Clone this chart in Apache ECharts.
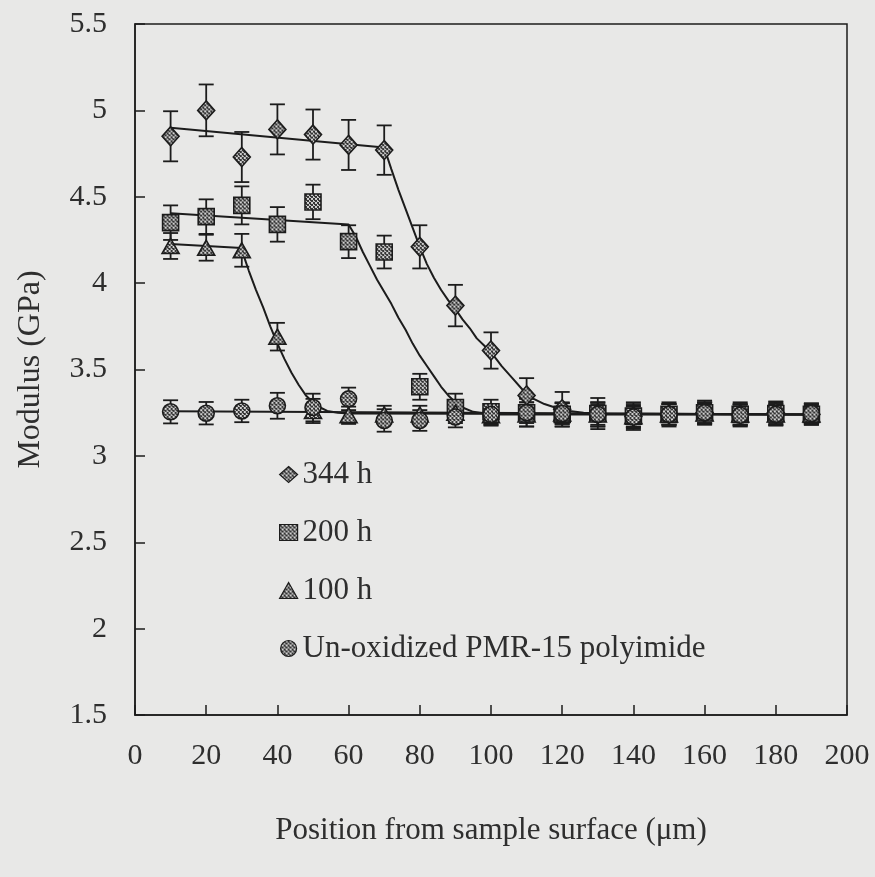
<!DOCTYPE html>
<html>
<head>
<meta charset="utf-8">
<script src="https://cdn.jsdelivr.net/npm/echarts@6/dist/echarts.min.js"></script>
<style>
  html, body { margin: 0; padding: 0; background: #e8e8e7; }
  #chart { width: 875px; height: 877px; }
</style>
</head>
<body>
<div id="chart"></div>
<script>
// Depth positions (µm) of the nanoindentation measurements
const positions = [10, 20, 30, 40, 50, 60, 70, 80, 90, 100, 110, 120, 130, 140, 150, 160, 170, 180, 190];

// Modulus (GPa) and error half-widths for each ageing time
const mod344 = [4.85, 5.00, 4.73, 4.89, 4.86, 4.80, 4.77, 4.21, 3.87, 3.61, 3.35, 3.27, 3.24, 3.23, 3.24, 3.25, 3.24, 3.25, 3.24];
const err344 = [0.145, 0.15, 0.145, 0.145, 0.145, 0.145, 0.143, 0.125, 0.12, 0.105, 0.10, 0.10, 0.07, 0.06, 0.06, 0.06, 0.06, 0.06, 0.05];

const mod200 = [4.35, 4.385, 4.45, 4.34, 4.47, 4.24, 4.18, 3.40, 3.28, 3.255, 3.25, 3.24, 3.245, 3.23, 3.24, 3.25, 3.24, 3.245, 3.24];
const err200 = [0.10, 0.10, 0.11, 0.10, 0.10, 0.095, 0.095, 0.075, 0.08, 0.07, 0.08, 0.07, 0.09, 0.08, 0.07, 0.07, 0.07, 0.07, 0.06];

const mod100 = [4.215, 4.205, 4.19, 3.69, 3.26, 3.235, 3.24, 3.24, 3.25, 3.235, 3.24, 3.245, 3.24, 3.23, 3.24, 3.245, 3.24, 3.24, 3.24];
const err100 = [0.075, 0.075, 0.095, 0.08, 0.07, 0.05, 0.05, 0.05, 0.06, 0.06, 0.07, 0.06, 0.07, 0.07, 0.06, 0.06, 0.06, 0.06, 0.06];

const modRef = [3.255, 3.247, 3.26, 3.29, 3.28, 3.33, 3.205, 3.205, 3.225, 3.24, 3.25, 3.245, 3.24, 3.225, 3.24, 3.25, 3.235, 3.24, 3.245];
const errRef = [0.067, 0.065, 0.065, 0.075, 0.08, 0.065, 0.065, 0.06, 0.06, 0.06, 0.06, 0.06, 0.06, 0.06, 0.06, 0.06, 0.06, 0.06, 0.06];

// Fitted profiles: [position, modulus]
const fit344 = [[10, 4.90], [70, 4.785], [72, 4.66], [74, 4.54], [76, 4.43], [78, 4.32], [80, 4.21], [82, 4.11],
  [84, 4.03], [86, 3.96], [88, 3.90], [90, 3.85], [92, 3.79], [94, 3.74], [96, 3.68], [98, 3.64], [100, 3.60],
  [103, 3.52], [106, 3.45], [109, 3.38], [112, 3.33], [115, 3.30], [118, 3.28], [122, 3.26], [126, 3.25],
  [130, 3.245], [190, 3.24]];
const fit200 = [[10, 4.405], [60, 4.34], [62, 4.27], [64, 4.18], [66, 4.10], [68, 4.02], [70, 3.95], [72, 3.88],
  [74, 3.80], [76, 3.73], [78, 3.65], [80, 3.58], [82, 3.52], [84, 3.46], [86, 3.40], [88, 3.35], [90, 3.31],
  [92, 3.28], [95, 3.255], [100, 3.24], [190, 3.24]];
const fit100 = [[10, 4.227], [30, 4.204], [31, 4.13], [32, 4.07], [34, 3.96], [36, 3.86], [38, 3.75], [40, 3.65],
  [42, 3.56], [44, 3.48], [46, 3.41], [48, 3.35], [50, 3.31], [52, 3.28], [54, 3.26], [57, 3.25], [60, 3.245],
  [190, 3.24]];
const fitRef = [[10, 3.258], [190, 3.24]];

const seriesNames = ['344 h', '200 h', '100 h', 'Un-oxidized PMR-15 polyimide'];

const FONT = '"Liberation Serif", "DejaVu Serif", serif';
const INK = '#1c1c1c';
const TEXT = '#2e2e2e';

// Dotted grey texture used for every marker
const dotCanvas = (function () {
  const c = document.createElement('canvas');
  c.width = 4; c.height = 4;
  const g = c.getContext('2d');
  g.fillStyle = '#d2d2d2';
  g.fillRect(0, 0, 4, 4);
  g.fillStyle = '#333333';
  g.fillRect(0, 0, 2, 2);
  g.fillRect(2, 2, 2, 2);
  g.fillRect(1, 2, 1, 1);
  return c;
})();

// Scatter symbols are drawn as unit paths scaled by size/2, so the texture
// is scaled back down to keep its dots at screen resolution.
function dotFill(size) {
  const w = Array.isArray(size) ? size[0] : size;
  const h = Array.isArray(size) ? size[1] : size;
  return { image: dotCanvas, repeat: 'repeat', scaleX: 2 / w, scaleY: 2 / h };
}
const legendFill = { image: dotCanvas, repeat: 'repeat' };

function pairs(xs, ys) { return xs.map((x, i) => [x, ys[i]]); }
function triples(xs, ys, es) { return xs.map((x, i) => [x, ys[i], es[i]]); }

function errorBars(data) {
  return {
    type: 'custom',
    silent: true,
    z: 3,
    data: data,
    renderItem: function (params, api) {
      const x = api.value(0), y = api.value(1), e = api.value(2);
      const top = api.coord([x, y + e]);
      const bot = api.coord([x, y - e]);
      const half = 7.5;
      const style = { stroke: INK, lineWidth: 1.8, fill: null };
      return {
        type: 'group',
        children: [
          { type: 'line', shape: { x1: top[0], y1: top[1], x2: bot[0], y2: bot[1] }, style: style },
          { type: 'line', shape: { x1: top[0] - half, y1: top[1], x2: top[0] + half, y2: top[1] }, style: style },
          { type: 'line', shape: { x1: bot[0] - half, y1: bot[1], x2: bot[0] + half, y2: bot[1] }, style: style }
        ]
      };
    }
  };
}

function fitLine(data) {
  return {
    type: 'line',
    data: data,
    symbol: 'none',
    silent: true,
    z: 2,
    lineStyle: { color: INK, width: 2 }
  };
}

function markers(name, data, symbol, size) {
  return {
    type: 'scatter',
    name: name,
    data: data,
    symbol: symbol,
    symbolSize: size,
    z: 4,
    itemStyle: { color: dotFill(size), borderColor: INK, borderWidth: 1.6, opacity: 1 }
  };
}

const legendIcons = ['diamond', 'rect', 'triangle', 'circle'];

const chart = echarts.init(document.getElementById('chart'), null, { renderer: 'canvas' });

chart.setOption({
  backgroundColor: '#e8e8e7',
  animation: false,
  textStyle: { fontFamily: FONT },
  grid: {
    left: 135, right: 28, top: 24, bottom: 162,
    show: true, borderColor: INK, borderWidth: 1.5, backgroundColor: 'transparent'
  },
  legend: {
    orient: 'vertical',
    left: 274, top: 454,
    itemWidth: 18, itemHeight: 16,
    itemGap: 27,
    data: seriesNames.map((n, i) => ({
      name: n,
      icon: legendIcons[i],
      itemStyle: { color: legendFill, borderColor: INK, borderWidth: 1.2 }
    })),
    textStyle: { fontFamily: FONT, fontSize: 31, color: TEXT }
  },
  xAxis: {
    type: 'value',
    min: 0, max: 200, interval: 20,
    name: 'Position from sample surface (\u03bcm)',
    nameLocation: 'middle',
    nameGap: 100,
    nameTextStyle: { fontFamily: FONT, fontSize: 31, color: TEXT },
    axisLine: { show: true, lineStyle: { color: INK, width: 1.5 } },
    axisTick: { show: true, inside: true, length: 10, lineStyle: { color: INK, width: 1.5 } },
    axisLabel: { fontFamily: FONT, fontSize: 30, color: TEXT, margin: 26 },
    splitLine: { show: false }
  },
  yAxis: {
    type: 'value',
    min: 1.5, max: 5.5, interval: 0.5,
    name: 'Modulus (GPa)',
    nameLocation: 'middle',
    nameGap: 88,
    nameTextStyle: { fontFamily: FONT, fontSize: 32, color: TEXT },
    axisLine: { show: true, lineStyle: { color: INK, width: 1.5 } },
    axisTick: { show: true, inside: true, length: 10, lineStyle: { color: INK, width: 1.5 } },
    axisLabel: { fontFamily: FONT, fontSize: 30, color: TEXT, margin: 28 },
    splitLine: { show: false }
  },
  series: [
    fitLine(fit344), fitLine(fit200), fitLine(fit100), fitLine(fitRef),
    errorBars(triples(positions, mod344, err344)),
    errorBars(triples(positions, mod200, err200)),
    errorBars(triples(positions, mod100, err100)),
    errorBars(triples(positions, modRef, errRef)),
    markers(seriesNames[0], pairs(positions, mod344), 'diamond', [17, 19]),
    markers(seriesNames[1], pairs(positions, mod200), 'rect', 16),
    markers(seriesNames[2], pairs(positions, mod100), 'triangle', [17, 15]),
    markers(seriesNames[3], pairs(positions, modRef), 'circle', 16)
  ]
});
</script>
</body>
</html>
